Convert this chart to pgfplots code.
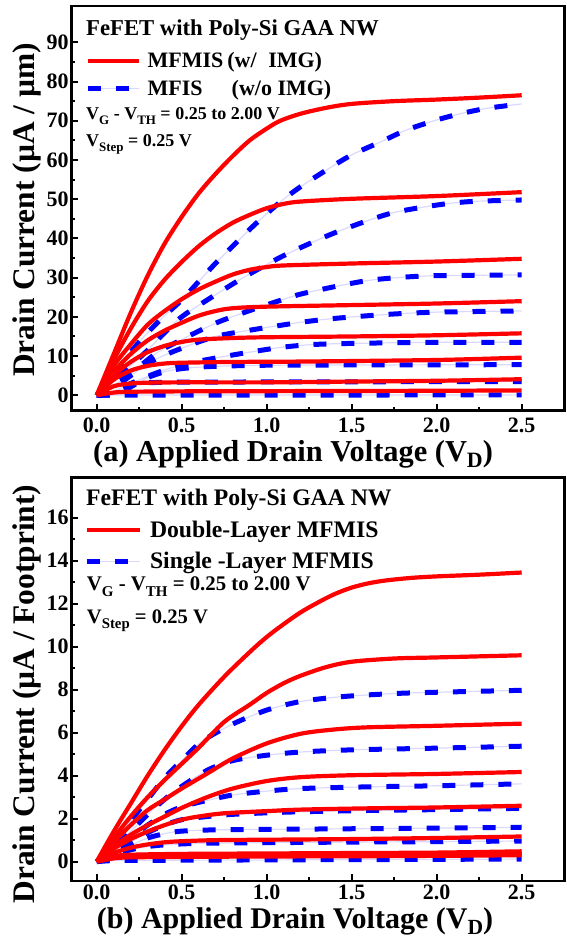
\documentclass[border=0pt]{standalone}
\usepackage{fontspec}
\setmainfont{Liberation Serif}
\usepackage{graphicx}
\usepackage{pgfplots}
\pgfplotsset{compat=1.18}

\newcommand{\sub}[1]{\raisebox{-0.27em}{\scalebox{0.72}{#1}}}
\newcommand{\dsub}[1]{\raisebox{-0.2em}{\scalebox{0.72}{#1}}}
\definecolor{myred}{RGB}{255,0,0}
\definecolor{myblue}{RGB}{0,0,255}

\pgfplotsset{
  redline/.style={myred, line width=4.2pt, smooth, tension=0.5, line join=round},
  blueline/.style={myblue, line width=5pt, dash pattern=on 13pt off 15pt, smooth, tension=0.5,
     preaction={draw=myblue!15, line width=1.2pt, solid}},
  common/.style={
    scale only axis, width=493pt, anchor=south west,
    xmin=-0.15, xmax=2.75,
    xtick={0,0.5,1,1.5,2,2.5}, minor x tick num=1, minor y tick num=1,
    tick pos=left, tick align=inside,
    axis line style={line width=2.6pt},
    major tick length=7pt, minor tick length=4pt,
    tick style={black, line width=2pt},
    /pgf/number format/assume math mode=true,
    tick label style={font=\fontsize{22}{24}\selectfont\bfseries},
    xticklabel style={/pgf/number format/fixed, /pgf/number format/fixed zerofill,
       /pgf/number format/precision=1, inner sep=0pt, anchor=north},
    yticklabel style={inner sep=0pt, anchor=east, xshift=-2.5pt},
    legend cell align=left,
    legend image code/.code={\draw[##1] (0pt,0pt) -- (51pt,0pt);},
  },
}

\begin{document}
\begin{tikzpicture}
\useasboundingbox (0pt,0pt) rectangle (567pt,938pt);

% ---------------- Panel (a) ----------------
\begin{axis}[common,
  at={(71.2pt,527.3pt)}, height=404.7pt,
  ymin=-3.93, ymax=99.26, ytick={0,10,...,90},
  xticklabel style={yshift=-6.6pt},
  xlabel={(a) Applied Drain Voltage (V\dsub{D})},
  ylabel={Drain Current (µA / µm)},
  every axis x label/.style={at={(axis description cs:0.45,-0.125)}, anchor=base, inner sep=0pt,
     font=\fontsize{30.4}{32}\selectfont\bfseries},
  every axis y label/.style={at={(axis description cs:-0.0895,0.496)}, rotate=90, anchor=center, inner sep=0pt,
     font=\fontsize{31.4}{33}\selectfont\bfseries},
  legend style={at={(axis description cs:0.028,0.8846)}, anchor=north west, draw=none, fill=none,
     inner sep=0pt, outer sep=0pt, row sep=10.6pt, column sep=6.7pt,
     font=\fontsize{22}{24}\selectfont\bfseries,
     nodes={inner sep=0pt}},
]
\addlegendimage{redline}
\addlegendentry{\makebox[79.6pt][l]{MFMIS}\makebox[41pt][l]{(w/}IMG)}
\addlegendimage{blueline}
\addlegendentry{\makebox[84pt][l]{MFIS}(w/o IMG)}

% MFIS (w/o IMG) - blue
\addplot[blueline, forget plot] coordinates {(0,0)(0.1,5)(0.2,11)(0.3,16)(0.4,20.3)(0.5,24.3)(0.6,29)(0.7,33.7)(0.8,38)(0.9,42.3)(1.0,46.3)(1.1,50)(1.2,53.2)(1.35,57.4)(1.5,61.3)(1.67,64.6)(1.82,67.6)(2.0,70.2)(2.15,71.9)(2.3,73.2)(2.5,74.3)};
\addplot[blueline, forget plot] coordinates {(0,0)(0.1,3.5)(0.2,7.5)(0.3,11.5)(0.4,16)(0.5,20)(0.65,24.3)(0.87,30.2)(1.09,35.4)(1.3,39.6)(1.47,42.6)(1.73,46.4)(2.0,48.5)(2.2,49.4)(2.5,49.8)};
\addplot[blueline, forget plot] coordinates {(0,0)(0.1,2.5)(0.2,5.5)(0.35,10.7)(0.5,14.2)(0.7,18.4)(0.88,21.3)(1.08,24.2)(1.2,25.8)(1.4,27.7)(1.6,29.3)(1.8,30.1)(2.0,30.5)(2.5,30.7)};
\addplot[blueline, forget plot] coordinates {(0,0)(0.1,2)(0.2,5)(0.34,9)(0.5,12)(0.7,15)(0.93,16.8)(1.2,18.6)(1.4,19.6)(1.7,20.6)(2.0,21.2)(2.5,21.5)};
\addplot[blueline, forget plot] coordinates {(0,0)(0.1,1)(0.2,3)(0.34,5.5)(0.5,7.8)(0.7,9.5)(0.9,11)(1.1,12.3)(1.3,13)(1.6,13.3)(2.0,13.5)(2.5,13.5)};
\addplot[blueline, forget plot] coordinates {(0,0)(0.1,0.5)(0.2,2.2)(0.3,4.5)(0.4,6)(0.5,6.8)(0.65,7.3)(0.9,7.6)(1.2,7.7)(2.5,7.8)};
\addplot[blueline, forget plot] coordinates {(0,0)(0.15,0.3)(0.2,2.2)(0.25,3)(0.4,3.3)(1.0,3.4)(2.5,3.5)};
\addplot[blueline, forget plot] coordinates {(0,0)(0.2,0.05)(1.0,0.05)(2.5,0.1)};

% MFMIS (w/ IMG) - red
\addplot[redline, forget plot] coordinates {(0,0)(0.1,10.5)(0.2,21)(0.3,30.5)(0.4,38.7)(0.5,45.5)(0.6,51.5)(0.7,56.5)(0.8,61)(0.9,65)(1.0,68)(1.08,70)(1.2,71.8)(1.35,73.3)(1.5,74.3)(1.75,75)(2.0,75.4)(2.25,75.9)(2.5,76.5)};
\addplot[redline, forget plot] coordinates {(0,0)(0.1,9)(0.2,17)(0.3,24)(0.4,29.5)(0.5,34)(0.6,38)(0.7,41.3)(0.8,44)(0.9,46)(1.0,47.7)(1.1,48.8)(1.2,49.4)(1.5,50.1)(2.0,50.8)(2.5,51.8)};
\addplot[redline, forget plot] coordinates {(0,0)(0.1,7.5)(0.2,13)(0.3,18)(0.4,21.5)(0.5,24.5)(0.6,27)(0.7,29)(0.8,30.8)(0.9,32)(1.0,32.7)(1.1,33.1)(1.5,33.6)(2.0,34.1)(2.5,34.8)};
\addplot[redline, forget plot] coordinates {(0,0)(0.1,6)(0.2,10.5)(0.3,14)(0.4,16.5)(0.5,18.5)(0.6,20.3)(0.7,21.5)(0.8,22.2)(1.0,22.6)(1.5,23)(2.0,23.4)(2.5,24)};
\addplot[redline, forget plot] coordinates {(0,0)(0.1,5)(0.2,8.5)(0.3,11)(0.4,12.6)(0.5,13.6)(0.6,14.2)(0.8,14.6)(1.0,14.8)(1.5,15)(2.0,15.3)(2.5,15.8)};
\addplot[redline, forget plot] coordinates {(0,0)(0.1,4)(0.2,6.3)(0.3,7.5)(0.4,8.1)(0.5,8.3)(0.8,8.5)(1.2,8.6)(2.0,9)(2.5,9.6)};
\addplot[redline, forget plot] coordinates {(0,0)(0.1,2.3)(0.2,3)(0.3,3.2)(0.5,3.3)(1.0,3.3)(1.5,3.5)(2.0,3.7)(2.5,4.1)};
\addplot[redline, forget plot] coordinates {(0,0)(0.1,0.7)(0.2,0.9)(0.5,1.0)(1.0,1.05)(1.5,1.1)(2.0,1.15)(2.5,1.25)};
\end{axis}

\node[anchor=base west, inner sep=0pt, font=\fontsize{22.7}{24}\selectfont\bfseries] at (86pt,902pt) {FeFET with Poly-Si GAA NW};
\node[anchor=base west, inner sep=0pt, font=\fontsize{18}{20}\selectfont\bfseries] at (86pt,818.7pt) {V\sub{G} - V\sub{TH} = 0.25 to 2.00 V};
\node[anchor=base west, inner sep=0pt, font=\fontsize{18}{20}\selectfont\bfseries] at (86pt,791.3pt) {V\sub{Step} = 0.25 V};

% ---------------- Panel (b) ----------------
\begin{axis}[common,
  at={(71.2pt,56.8pt)}, height=403.9pt,
  ymin=-0.91, ymax=17.88, ytick={0,2,...,16},
  xticklabel style={yshift=-3.5pt},
  xlabel={(b) Applied Drain Voltage (V\dsub{D})},
  ylabel={Drain Current (µA / Footprint)},
  every axis x label/.style={at={(axis description cs:0.454,-0.1164)}, anchor=base, inner sep=0pt,
     font=\fontsize{30}{32}\selectfont\bfseries},
  every axis y label/.style={at={(axis description cs:-0.0895,0.4635)}, rotate=90, anchor=center, inner sep=0pt,
     font=\fontsize{31.4}{33}\selectfont\bfseries},
  legend image code/.code={\draw[#1] (0pt,0pt) -- (53.3pt,0pt);},
  legend style={at={(axis description cs:0.026,0.891)}, anchor=north west, draw=none, fill=none,
     inner sep=0pt, outer sep=0pt, row sep=13pt, column sep=7.7pt,
     font=\fontsize{23.7}{25}\selectfont\bfseries,
     nodes={inner sep=0pt}},
]
\addlegendimage{redline}
\addlegendentry{Double-Layer MFMIS}
\addlegendimage{blueline}
\addlegendentry{Single -Layer MFMIS}

% Single-Layer MFMIS - blue
\addplot[blueline, forget plot] coordinates {(0,0)(0.1,0.8)(0.2,1.9)(0.3,2.9)(0.4,3.9)(0.5,4.7)(0.62,5.6)(0.8,6.4)(1.0,7.05)(1.2,7.45)(1.45,7.68)(1.75,7.82)(2.0,7.88)(2.5,7.97)};
\addplot[blueline, forget plot] coordinates {(0,0)(0.1,0.6)(0.2,1.4)(0.3,2.2)(0.4,2.9)(0.5,3.5)(0.65,4.25)(0.8,4.7)(1.0,4.95)(1.2,5.1)(1.5,5.2)(2.0,5.28)(2.5,5.37)};
\addplot[blueline, forget plot] coordinates {(0,0)(0.1,0.5)(0.2,1.1)(0.3,1.7)(0.4,2.2)(0.5,2.55)(0.65,2.85)(0.8,3.1)(1.0,3.28)(1.2,3.4)(1.6,3.48)(2.0,3.53)(2.5,3.62)};
\addplot[blueline, forget plot] coordinates {(0,0)(0.1,0.4)(0.2,0.9)(0.3,1.35)(0.4,1.7)(0.5,1.95)(0.65,2.1)(0.8,2.2)(1.0,2.27)(1.2,2.32)(1.6,2.38)(2.0,2.42)(2.5,2.48)};
\addplot[blueline, forget plot] coordinates {(0,0)(0.1,0.35)(0.2,0.75)(0.3,1.1)(0.4,1.3)(0.5,1.42)(0.7,1.48)(1.0,1.5)(1.5,1.53)(2.0,1.56)(2.5,1.6)};
\addplot[blueline, forget plot] coordinates {(0,0)(0.1,0.3)(0.2,0.55)(0.3,0.7)(0.4,0.78)(0.6,0.85)(1.0,0.88)(1.5,0.91)(2.0,0.93)(2.5,0.96)};
\addplot[blueline, forget plot] coordinates {(0,0)(0.1,0.15)(0.2,0.25)(0.5,0.3)(1.0,0.32)(2.5,0.36)};
\addplot[blueline, forget plot] coordinates {(0,0)(0.1,0.05)(0.3,0.06)(1.0,0.08)(2.5,0.12)};

% Double-Layer MFMIS - red
\addplot[redline, forget plot] coordinates {(0,0)(0.1,1.4)(0.2,2.7)(0.3,4)(0.4,5.2)(0.5,6.3)(0.6,7.3)(0.75,8.6)(0.9,9.75)(1.0,10.45)(1.1,11.05)(1.2,11.6)(1.3,12.05)(1.4,12.45)(1.5,12.75)(1.6,12.95)(1.7,13.08)(1.85,13.2)(2.0,13.27)(2.25,13.35)(2.5,13.45)};
\addplot[redline, forget plot] coordinates {(0,0)(0.1,1.1)(0.2,2.1)(0.3,3)(0.4,3.8)(0.5,4.55)(0.6,5.3)(0.75,6.5)(0.9,7.3)(1.0,7.85)(1.1,8.3)(1.2,8.65)(1.35,9.05)(1.5,9.3)(1.75,9.45)(2.0,9.5)(2.5,9.6)};
\addplot[redline, forget plot] coordinates {(0,0)(0.1,0.9)(0.2,1.7)(0.3,2.4)(0.4,2.9)(0.5,3.4)(0.65,4.1)(0.8,4.8)(1.0,5.5)(1.2,5.95)(1.4,6.15)(1.6,6.25)(2.0,6.32)(2.5,6.42)};
\addplot[redline, forget plot] coordinates {(0,0)(0.1,0.7)(0.2,1.25)(0.3,1.7)(0.4,2.1)(0.5,2.5)(0.65,3.0)(0.8,3.4)(1.0,3.75)(1.2,3.93)(1.5,4.02)(2.0,4.08)(2.5,4.17)};
\addplot[redline, forget plot] coordinates {(0,0)(0.1,0.6)(0.2,1.05)(0.3,1.4)(0.4,1.7)(0.5,1.95)(0.6,2.1)(0.75,2.25)(1.0,2.35)(1.2,2.42)(1.6,2.48)(2.0,2.52)(2.5,2.6)};
\addplot[redline, forget plot] coordinates {(0,0)(0.1,0.4)(0.2,0.65)(0.3,0.8)(0.4,0.9)(0.5,0.95)(0.7,1.0)(1.0,1.02)(1.5,1.05)(2.0,1.1)(2.5,1.17)};
\addplot[redline, forget plot] coordinates {(0,0)(0.1,0.25)(0.2,0.32)(0.5,0.36)(1.0,0.38)(1.5,0.4)(2.0,0.42)(2.5,0.48)};
\addplot[redline, forget plot] coordinates {(0,0)(0.1,0.15)(0.2,0.2)(0.5,0.22)(1.0,0.24)(1.5,0.25)(2.0,0.27)(2.5,0.3)};
\end{axis}

\node[anchor=base west, inner sep=0pt, font=\fontsize{23.7}{25}\selectfont\bfseries] at (86pt,432.3pt) {FeFET with Poly-Si GAA NW};
\node[anchor=base west, inner sep=0pt, font=\fontsize{20.8}{22}\selectfont\bfseries] at (86.7pt,347.3pt) {V\sub{G} - V\sub{TH} = 0.25 to 2.00 V};
\node[anchor=base west, inner sep=0pt, font=\fontsize{20.6}{22}\selectfont\bfseries] at (86.7pt,314.7pt) {V\sub{Step} = 0.25 V};
\end{tikzpicture}
\end{document}
